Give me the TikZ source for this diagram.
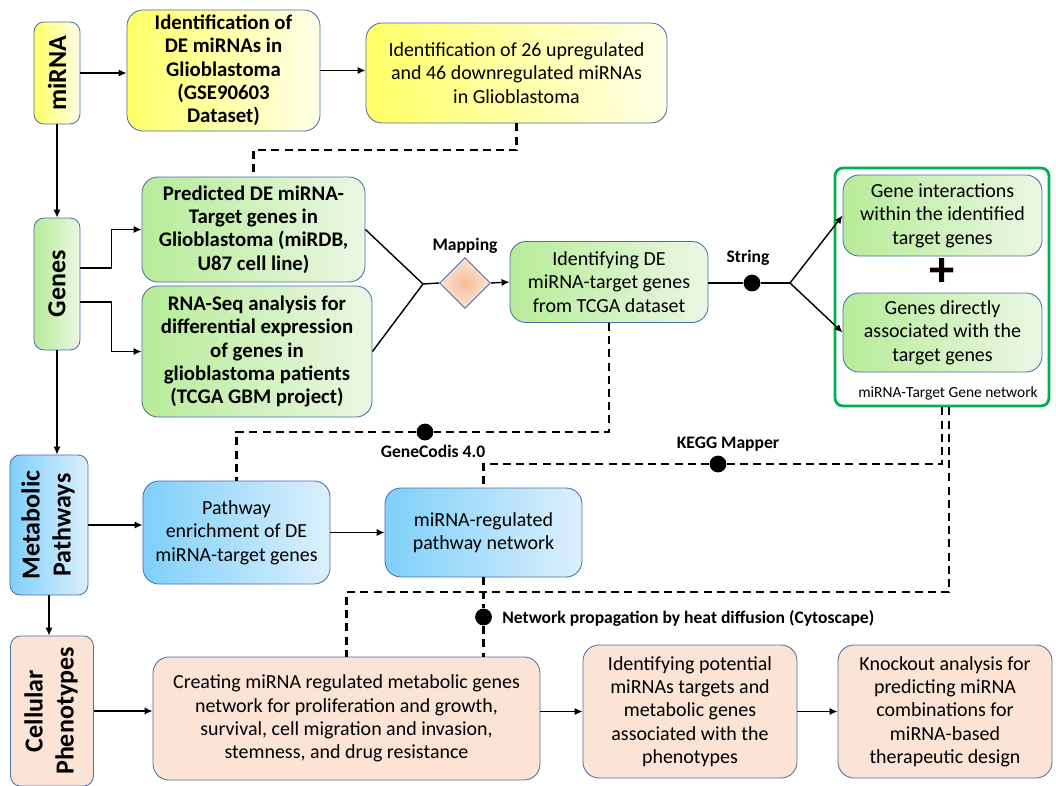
\documentclass[tikz,border=0pt]{standalone}
\usepackage{fontspec}
\setmainfont{Carlito}
\usetikzlibrary{arrows.meta,shapes.geometric}

\definecolor{boxline}{HTML}{4A6FA5}
\definecolor{yelA}{HTML}{FFFF66}
\definecolor{yelB}{HTML}{FFFFE8}
\definecolor{grnA}{HTML}{B6EC98}
\definecolor{grnB}{HTML}{EBF7E4}
\definecolor{bluA}{HTML}{7FCFFA}
\definecolor{bluB}{HTML}{DCF0FC}
\definecolor{peach}{HTML}{FBE3D5}
\definecolor{diaA}{HTML}{F8BC98}
\definecolor{diaB}{HTML}{FCE4D6}
\definecolor{netgreen}{HTML}{00B050}

\begin{document}
\begin{tikzpicture}[x=0.25mm, y=-0.25mm, line width=1pt,
  box/.style={draw=boxline, line width=0.6pt, rounded corners=4mm, align=center,
    inner sep=2pt, font=\fontsize{14.2}{16.6}\selectfont},
  ybox/.style={box, left color=yelA, right color=yelB},
  gbox/.style={box, left color=grnA, right color=grnB},
  bbox/.style={box, left color=bluA, right color=bluB},
  pbox/.style={box, fill=peach},
  strong/.style={font=\fontsize{14.8}{16.6}\selectfont\bfseries},
  side/.style={rounded corners=2.5mm, font=\fontsize{18.5}{22}\selectfont\bfseries},
  tag/.style={font=\fontsize{12.5}{14}\selectfont\bfseries},
  dot/.style={circle, fill=black, inner sep=0pt, minimum size=4.2mm},
  arr/.style={-{Latex[length=2mm,width=1.8mm]}},
  link/.style={dash pattern=on 2mm off 1.3mm, line width=1.5pt}]
  \useasboundingbox (0,0) rectangle (1056,785);

  % left column
  \node[ybox, side, minimum width=11.5mm, minimum height=25.5mm] (mirna) at (57,73) {\rotatebox{90}{miRNA}};
  \node[gbox, side, minimum width=11.5mm, minimum height=33mm] (genes) at (57,284) {\rotatebox{90}{Genes}};
  \node[bbox, side, minimum width=19.5mm, minimum height=35mm] (meta) at (49,525)
    {\rotatebox{90}{\begin{tabular}{@{}c@{}}Metabolic\\Pathways\end{tabular}}};
  \node[pbox, side, minimum width=20.75mm, minimum height=37.5mm] (cell) at (52,711)
    {\rotatebox{90}{\begin{tabular}{@{}c@{}}Cellular\\Phenotypes\end{tabular}}};

  \draw[arr] (mirna.south) -- (mirna.south |- genes.north);
  \draw[arr] (genes.south) -- (genes.south |- meta.north);
  \draw[arr] (meta.south) -- (meta.south |- cell.north);

  % miRNA row
  \node[ybox, strong, minimum width=48.25mm, minimum height=30.25mm] (b1) at (223.5,70.5)
    {Identification of\\DE miRNAs in\\Glioblastoma\\(GSE90603\\Dataset)};
  \node[ybox, minimum width=75.25mm, minimum height=25mm] (b2) at (516.5,73)
    {Identification of 26 upregulated\\and 46 downregulated miRNAs\\in Glioblastoma};

  \draw[arr] (mirna.east) -- (mirna.east -| b1.west);
  \draw[arr] (b1.east) -- (b1.east -| b2.west);

  % genes rows
  \node[gbox, strong, minimum width=55.75mm, minimum height=26.25mm] (pred) at (253.5,229.5)
    {Predicted DE miRNA-\\Target genes in\\Glioblastoma (miRDB,\\U87 cell line)};
  \node[gbox, strong, minimum width=57.5mm, minimum height=32.75mm] (rnaseq) at (257,351.5)
    {RNA-Seq analysis for\\differential expression\\of genes in\\glioblastoma patients\\(TCGA GBM project)};
  \node[diamond, draw=boxline, line width=0.6pt, inner color=diaA, outer color=diaB,
    minimum width=12.75mm, minimum height=12.75mm, inner sep=0pt] (map) at (465,283) {};
  \node[tag] (maplab) at (465,246) {Mapping};
  \node[gbox, minimum width=49.5mm, minimum height=20.25mm] (tcga) at (609,282)
    {Identifying DE\\miRNA-target genes\\from TCGA dataset};

  \draw[arr] ([yshift=4mm]genes.east) -- ++(31,0) |- (pred.west);
  \draw[arr] ([yshift=-4.5mm]genes.east) -- ++(31,0) |- (rnaseq.west);
  \coordinate (join) at (423,284);
  \draw (pred.east) -- (join) -- (map.west);
  \draw (rnaseq.east) -- (join);
  \draw[arr] (map.east) -- (tcga.west);

  % gene network
  \node[draw=netgreen, line width=2pt, rounded corners=2mm, minimum width=53.5mm,
    minimum height=59.5mm] (net) at (942,287) {};
  \node[gbox, minimum width=49.75mm, minimum height=20.25mm] (gi) at (942.5,215.5)
    {Gene interactions\\within the identified\\target genes};
  \node[font=\fontsize{36}{36}\selectfont\bfseries] (plus) at (942,272) {+};
  \node[gbox, minimum width=49.75mm, minimum height=19.75mm] (gd) at (942.5,332.5)
    {Genes directly\\associated with the\\target genes};
  \node[font=\fontsize{11}{12}\selectfont] (netlab) at (948,393) {miRNA-Target Gene network};

  \node[dot] (str) at (752,283) {};
  \node[tag] (strlab) at (748,258) {String};
  \coordinate (split) at (790,283);
  \draw (tcga.east |- str) -- (str) -- (split);
  \draw[arr] (split) -- (gi.west);
  \draw[arr] (split) -- (gd.west);

  % pathways row
  \node[bbox, minimum width=46.75mm, minimum height=25.75mm] (pathway) at (236.5,532.5)
    {Pathway\\enrichment of DE\\miRNA-target genes};
  \node[bbox, minimum width=49.25mm, minimum height=22.25mm] (mpn) at (483.5,532.5)
    {miRNA-regulated\\pathway network};

  \draw[arr] (meta.east) -- (meta.east -| pathway.west);
  \draw[arr] (pathway) -- (mpn);

  % phenotype row
  \node[pbox, minimum width=96.75mm, minimum height=30.75mm] (creat) at (346.5,718.5)
    {Creating miRNA regulated metabolic genes\\network for proliferation and growth,\\survival, cell migration and invasion,\\stemness, and drug resistance};
  \node[pbox, minimum width=53.5mm, minimum height=33.25mm] (pot) at (690,711.5)
    {Identifying potential\\miRNAs targets and\\metabolic genes\\associated with the\\phenotypes};
  \node[pbox, minimum width=53.5mm, minimum height=33.25mm] (ko) at (945,711.5)
    {Knockout analysis for\\predicting miRNA\\combinations for\\miRNA-based\\therapeutic design};

  \draw[arr] (cell.east) -- (cell.east -| creat.west);
  \draw[arr] (creat.east |- pot.west) -- (pot.west);
  \draw[arr] (pot) -- (ko);

  % dashed links
  \draw[link] (b2.south) -- ++(0,27) -| (pred.north);

  \node[dot] (gc) at (425,432) {};
  \node[tag] (gclab) at (433,451) {GeneCodis 4.0};
  \draw[link] (tcga.south) |- (gc) -| (pathway.north);

  \node[dot] (kegg) at (718,464) {};
  \node[tag] (kegglab) at (728,444) {KEGG Mapper};
  \draw[link] (net.south) |- (kegg) -| (mpn.north);

  \draw[link] ([xshift=1.75mm]net.south) -- ++(0,185) -| (creat.north);

  \node[dot] (heat) at (483.5,617) {};
  \node[tag, anchor=west] (heatlab) at (497,618) {Network propagation by heat diffusion (Cytoscape)};
  \draw[link] (mpn.south) -- (heat) -- (heat |- creat.north);

\end{tikzpicture}
\end{document}
